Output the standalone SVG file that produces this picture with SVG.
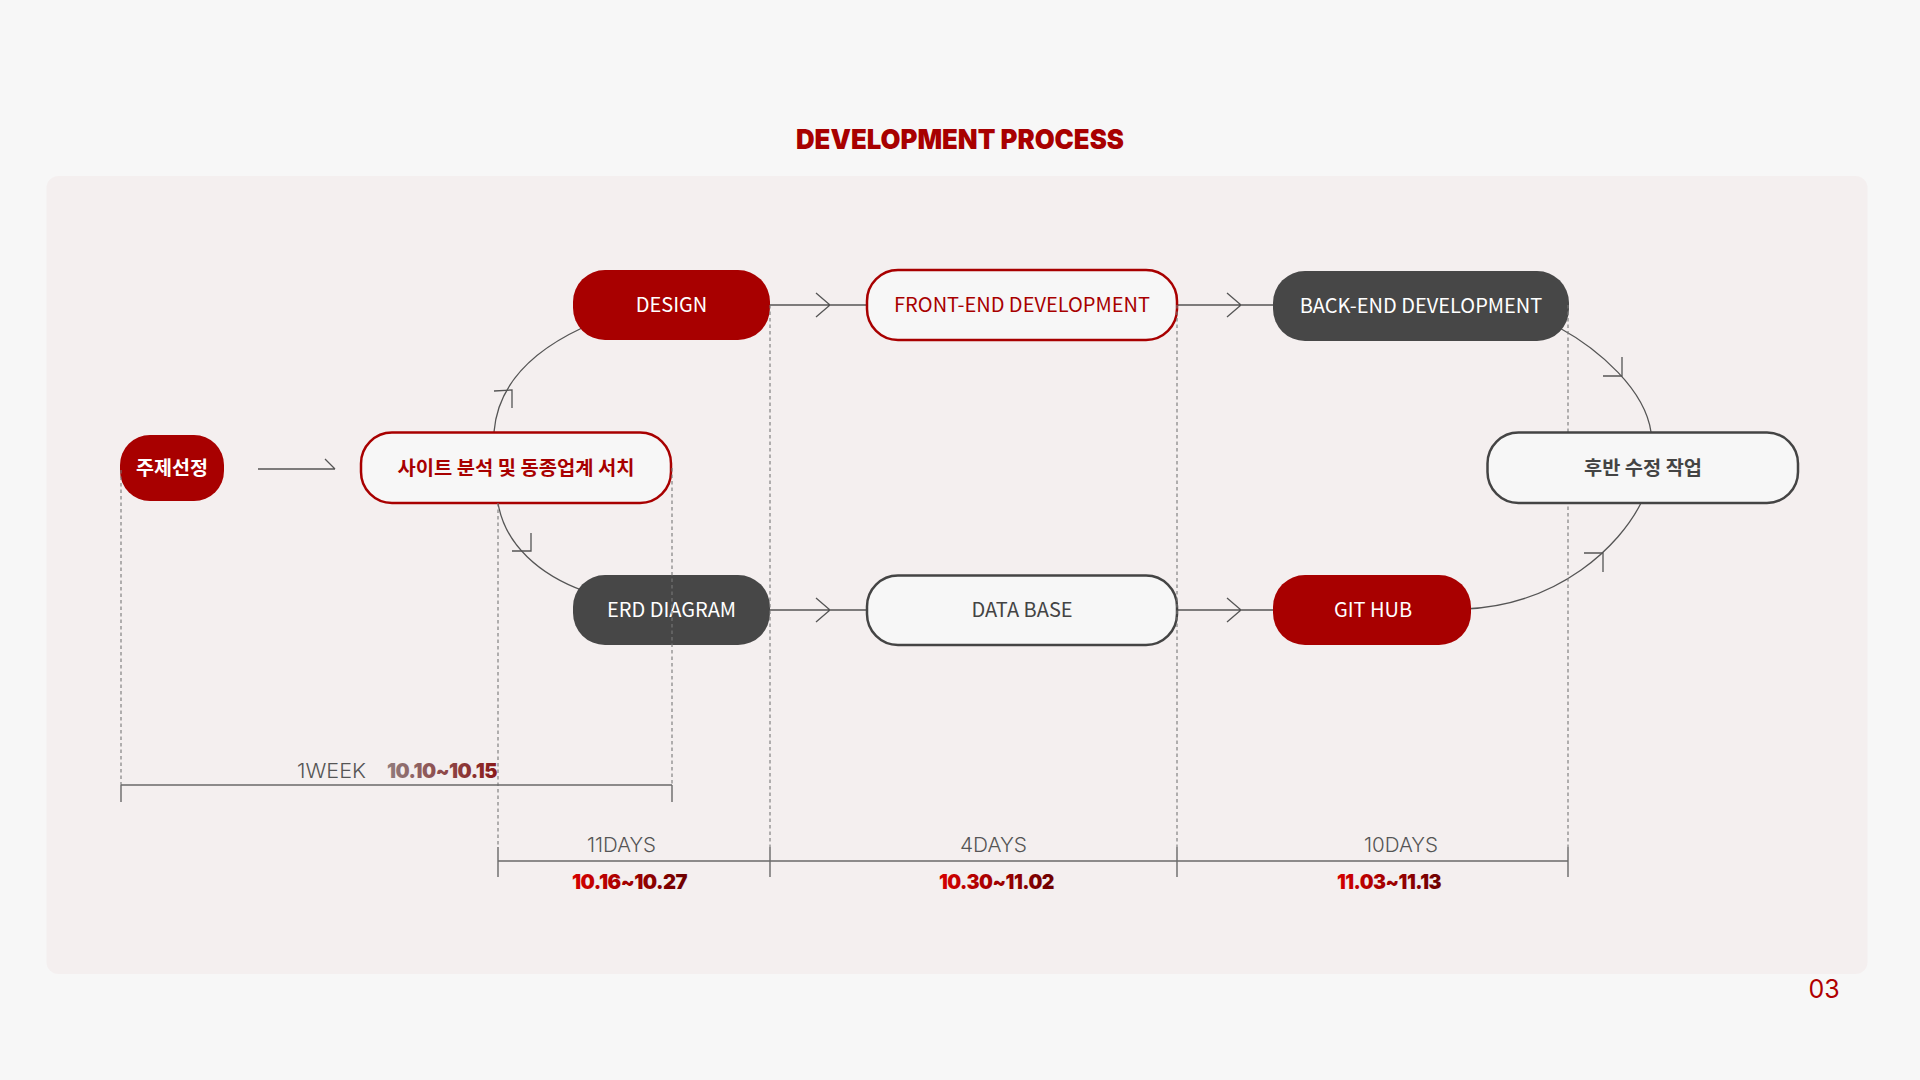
<svg xmlns="http://www.w3.org/2000/svg" width="1920" height="1080" viewBox="0 0 1920 1080">
  <defs>
    <style>
      .conn { fill: none; stroke: #555; stroke-width: 1.3; }
      .dash { fill: none; stroke: #777; stroke-width: 1.1; stroke-dasharray: 3.5 3; }
      .rule { fill: none; stroke: #6a6a6a; stroke-width: 1.4; }
      .nt { font-family: "Noto Sans CJK KR", "Noto Sans", sans-serif; font-size: 20px; font-weight: 400; text-anchor: middle; }
      .kt { font-family: "Noto Sans CJK KR", "Noto Sans", sans-serif; font-size: 19px; font-weight: 700; text-anchor: middle; }
      .fill-red { fill: #a80000; }
      .fill-dark { fill: #474747; }
      .out-red { fill: #f7f7f7; stroke: #a80000; stroke-width: 2.5; }
      .out-dark { fill: #f7f7f7; stroke: #444; stroke-width: 2.5; }
      .lbl { font-family: Inter, "Liberation Sans", sans-serif; font-size: 20px; font-weight: 300; fill: #555; text-anchor: middle; }
      .date { font-family: Inter, "Liberation Sans", sans-serif; font-size: 20px; font-weight: 900; text-anchor: middle; letter-spacing: -0.5px; }
    </style>
    <linearGradient id="gWeek" x1="0" y1="0" x2="1" y2="0">
      <stop offset="0" stop-color="#917c7c"/>
      <stop offset="1" stop-color="#8a1a1a"/>
    </linearGradient>
    <linearGradient id="gRed" x1="0" y1="0" x2="1" y2="0">
      <stop offset="0" stop-color="#d60000"/>
      <stop offset="1" stop-color="#6c0000"/>
    </linearGradient>
  </defs>

  <rect x="0" y="0" width="1920" height="1080" fill="#f7f7f7"/>
  <rect x="46.5" y="176" width="1821" height="798" rx="12" fill="#f4efef"/>

  <text x="960" y="149" font-family="Inter, 'Liberation Sans', sans-serif" font-size="27" font-weight="900" fill="#a80000" text-anchor="middle" textLength="328" lengthAdjust="spacingAndGlyphs">DEVELOPMENT PROCESS</text>

  <g id="connectors">
    <path class="conn" d="M258 469 H335 M325 459 L335 469"/>
    <path class="conn" d="M494 432 C498 382 535 350 582 328"/>
    <path class="conn" d="M494 391 L512 390 L512 408"/>
    <path class="conn" d="M498 503 C505 545 540 575 584 591"/>
    <path class="conn" d="M512 551 L531 551 L531 533"/>
    <path class="conn" d="M770 305 H867 M816 293 L830 305 L816 317"/>
    <path class="conn" d="M1177 305 H1273 M1227 293 L1241 305 L1227 317"/>
    <path class="conn" d="M770 610 H867 M816 598 L830 610 L816 622"/>
    <path class="conn" d="M1177 610 H1273 M1227 598 L1241 610 L1227 622"/>
    <path class="conn" d="M1558 327 C1600 350 1645 390 1651 432"/>
    <path class="conn" d="M1603 376 L1622 376 L1622 357"/>
    <path class="conn" d="M1641 503 C1620 545 1560 605 1465 609"/>
    <path class="conn" d="M1584 553 L1603 553 L1603 572"/>
  </g>

  <g id="node-topic">
    <rect class="fill-red" x="120" y="435" width="104" height="66" rx="30"/>
    <text class="kt" x="172" y="475" fill="#ffffff" textLength="72" lengthAdjust="spacingAndGlyphs">주제선정</text>
  </g>
  <g id="node-research">
    <rect class="out-red" x="361" y="432.5" width="310" height="70.5" rx="31"/>
    <text class="kt" x="516" y="475" fill="#a80000" textLength="237" lengthAdjust="spacingAndGlyphs">사이트 분석 및 동종업계 서치</text>
  </g>
  <g id="node-design">
    <rect class="fill-red" x="573" y="270" width="197" height="70" rx="32"/>
    <text class="nt" x="671.5" y="312" fill="#ffffff">DESIGN</text>
  </g>
  <g id="node-frontend">
    <rect class="out-red" x="867" y="270" width="310" height="70" rx="31"/>
    <text class="nt" x="1022" y="312" fill="#a80000">FRONT-END DEVELOPMENT</text>
  </g>
  <g id="node-backend">
    <rect class="fill-dark" x="1273" y="271" width="296" height="70" rx="32"/>
    <text class="nt" x="1421" y="313" fill="#ffffff">BACK-END DEVELOPMENT</text>
  </g>
  <g id="node-erd">
    <rect class="fill-dark" x="573" y="575" width="197" height="70" rx="32"/>
    <text class="nt" x="671.5" y="617" fill="#ffffff">ERD DIAGRAM</text>
  </g>
  <g id="node-database">
    <rect class="out-dark" x="867" y="575.5" width="310" height="69.5" rx="31"/>
    <text class="nt" x="1022" y="617" fill="#444444">DATA BASE</text>
  </g>
  <g id="node-github">
    <rect class="fill-red" x="1273" y="575" width="198" height="70" rx="32"/>
    <text class="nt" x="1373" y="617" fill="#ffffff">GIT HUB</text>
  </g>

  <g id="timeline">
    <path class="dash" d="M121 470 V785 M498 503 V847 M672 468 V785 M770 305 V847 M1177 305 V847 M1568 305 V847"/>
    <path class="rule" d="M121 785 H672 M121 785 V802 M672 785 V802"/>
    <path class="rule" d="M498 861 H1568 M498 847 V877 M770 847 V877 M1177 847 V877 M1568 847 V877"/>
    <text class="lbl" x="331.5" y="778" textLength="69" lengthAdjust="spacingAndGlyphs">1WEEK</text>
    <text class="date" x="442" y="778" fill="url(#gWeek)" textLength="110" lengthAdjust="spacingAndGlyphs">10.10~10.15</text>
    <text class="lbl" x="621.5" y="852" textLength="69" lengthAdjust="spacingAndGlyphs">11DAYS</text>
    <text class="lbl" x="993.5" y="852" textLength="67" lengthAdjust="spacingAndGlyphs">4DAYS</text>
    <text class="lbl" x="1401" y="852" textLength="74" lengthAdjust="spacingAndGlyphs">10DAYS</text>
    <text class="date" x="629.5" y="889" fill="url(#gRed)" textLength="115" lengthAdjust="spacingAndGlyphs">10.16~10.27</text>
    <text class="date" x="996.5" y="889" fill="url(#gRed)" textLength="115" lengthAdjust="spacingAndGlyphs">10.30~11.02</text>
    <text class="date" x="1389" y="889" fill="url(#gRed)" textLength="104" lengthAdjust="spacingAndGlyphs">11.03~11.13</text>
  </g>

  <g id="node-revision">
    <rect class="out-dark" x="1487.5" y="432.5" width="310.5" height="70.5" rx="31"/>
    <text class="kt" x="1643" y="475" fill="#444444" textLength="118" lengthAdjust="spacingAndGlyphs">후반 수정 작업</text>
  </g>

  <text x="1824" y="998" font-family="Inter, 'Liberation Sans', sans-serif" font-size="25" font-weight="400" fill="#b00000" text-anchor="middle">03</text>
</svg>
